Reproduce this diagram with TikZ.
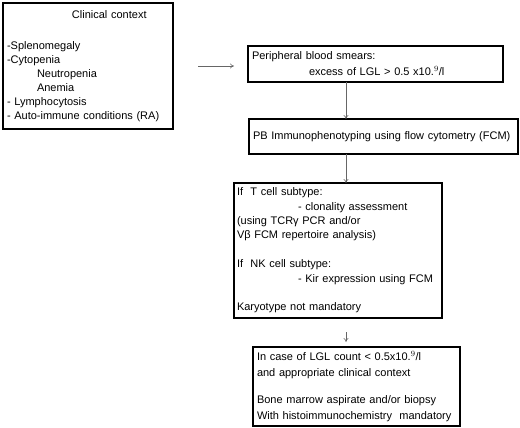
\documentclass[tikz,border=0pt]{standalone}
\usepackage{fontspec}
\setmainfont{Liberation Sans}
\usepackage{tikz}
\usetikzlibrary{arrows.meta}

\begin{document}
\begin{tikzpicture}[x=1pt, y=-1pt,
  every node/.style={font=\fontsize{11}{14.4}\selectfont, outer sep=0pt},
  box/.style={draw=black, line width=1.2pt, anchor=north west, align=left, inner xsep=4pt, inner ysep=2pt},
  link/.style={draw=black!60, line width=0.6pt, -{To[length=4pt,width=5pt]}}]
\useasboundingbox (0,0) rectangle (520,428);

\node[box, minimum width=170pt, minimum height=126pt, text width=162pt, font=\fontsize{11}{14}\selectfont] (context) at (3,3) {\hspace*{65pt}Clinical context\\[17pt]
-Splenomegaly\\
-Cytopenia\\
\hspace*{30pt}Neutropenia\\
\hspace*{30pt}Anemia\\
- Lymphocytosis\\
- Auto-immune conditions (RA)};

\node[box, minimum width=255pt, minimum height=36pt, text width=247pt, font=\fontsize{11}{16}\selectfont] (smear) at (248,46) {Peripheral blood smears:\\
\hspace*{57pt}excess of LGL > 0.5 x10.$^9$/l};

\node[box, minimum width=269pt, minimum height=35pt, text width=261pt] (fcm) at (249,119) {PB Immunophenotyping using flow cytometry (FCM)};

\node[box, minimum width=208pt, minimum height=135pt, text width=202pt, inner xsep=3pt] (subtype) at (234,183) {If~~T cell subtype:\\
\hspace*{61pt}- clonality assessment\\
(using TCRγ PCR and/or\\
Vβ FCM repertoire analysis)\\[14.4pt]
If~~NK cell subtype:\\
\hspace*{61pt}- Kir expression using FCM\\[14.4pt]
Karyotype not mandatory};

\node[box, minimum width=207pt, minimum height=79pt, text width=199pt, font=\fontsize{11}{16.5}\selectfont] (marrow) at (253,347) {In case of LGL count < 0.5x10.$^9$/l\\
and appropriate clinical context\\[10pt]
Bone marrow aspirate and/or biopsy\\
With histoimmunochemistry~~mandatory};

\coordinate (axis) at (346,0);

\draw[link, shorten <=25pt, shorten >=14pt] (context.east |- 0,66) -- (smear.west |- 0,66);
\draw[link] (smear.south -| axis) -- (fcm.north -| axis);
\draw[link] (fcm.south -| axis) -- (subtype.north -| axis);
\draw[link, shorten <=14pt, shorten >=5pt] (subtype.south -| axis) -- (marrow.north -| axis);
\end{tikzpicture}
\end{document}
